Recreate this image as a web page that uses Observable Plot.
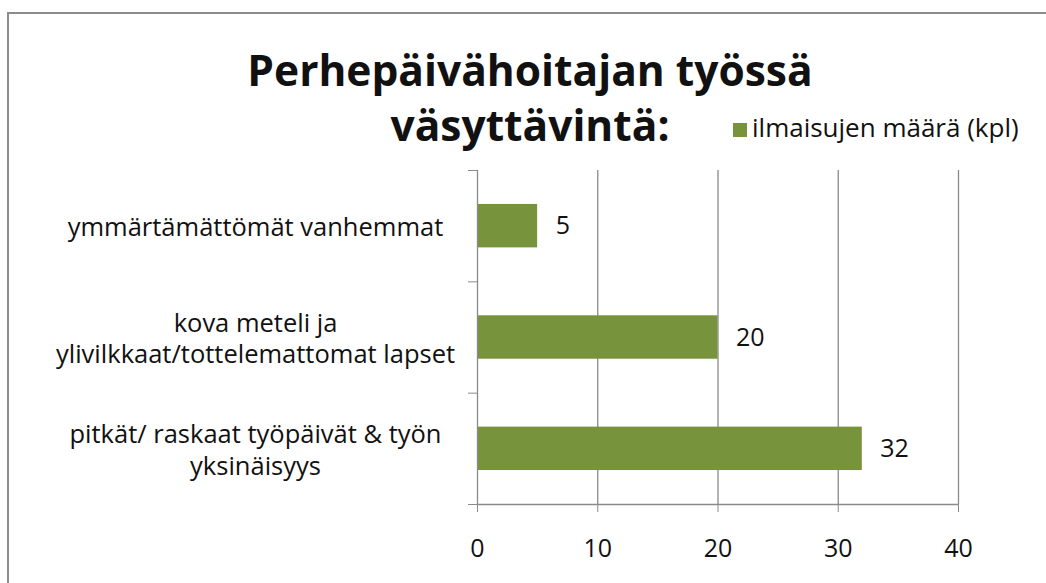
<!DOCTYPE html>
<html>
<head>
<meta charset="utf-8">
<script src="https://cdn.jsdelivr.net/npm/d3@7"></script>
<script src="https://cdn.jsdelivr.net/npm/@observablehq/plot@0.6"></script>
<style>
  html, body { margin: 0; padding: 0; background: #fff; overflow: hidden; }
  #wrap { position: relative; width: 1046px; height: 583px; overflow: hidden; font-family: "Open Sans", sans-serif; color: #111; }
  #frame { position: absolute; left: 7px; top: 12px; width: 1200px; height: 800px; border: 2px solid #8c8c8c; box-sizing: border-box; }
  #chart { position: absolute; left: 0; top: 0; }
  #title { position: absolute; left: 0; top: 42px; width: 1060px; text-align: center; font-weight: 700; font-size: 42.5px; line-height: 55px; color: #111; }
  #legend { position: absolute; left: 733px; top: 114px; font-size: 26px; line-height: 26px; white-space: nowrap; }
  #legend .sw { position: absolute; left: 0; top: 9px; width: 14px; height: 14px; background: #77933C; }
  #legend .lab { position: absolute; left: 19px; top: 0; }
</style>
</head>
<body>
<div id="wrap">
  <div id="frame"></div>
  <div id="chart"></div>
  <div id="title">Perhepäivähoitajan työssä<br>väsyttävintä:</div>
  <div id="legend"><span class="sw"></span><span class="lab">ilmaisujen määrä (kpl)</span></div>
</div>
<script>
const categories = [
  "ymmärtämättömät vanhemmat",
  "kova meteli ja\nylivilkkaat/tottelemattomat lapset",
  "pitkät/ raskaat työpäivät & työn\nyksinäisyys"
];
const values = [5, 20, 32];
const xTicks = [0, 10, 20, 30, 40];
const seriesName = "ilmaisujen määrä (kpl)";

const data = categories.map((c, i) => ({category: c, value: values[i], i}));
const boundaries = d3.range(categories.length + 1);

const green = "#77933C";
const gray = "#8a8a8a";
const ink = "#111";
const gap = 0.305;

const chart = Plot.plot({
  width: 1046,
  height: 583,
  marginLeft: 477,
  marginRight: 88,
  marginTop: 170,
  marginBottom: 79,
  style: {fontFamily: "Open Sans, sans-serif", fontSize: "25px", color: ink, background: "transparent"},
  x: {domain: [0, 40]},
  y: {domain: [0, categories.length], reverse: true},
  marks: [
    Plot.ruleX(xTicks.slice(1), {stroke: gray, strokeWidth: 1.3}),
    Plot.rectX(data, {x: "value", y1: d => d.i + gap, y2: d => d.i + 1 - gap, fill: green}),
    Plot.ruleX([0], {stroke: gray, strokeWidth: 1.3}),
    Plot.ruleY([categories.length], {stroke: gray, strokeWidth: 1.3}),
    Plot.axisX({ticks: xTicks, tickSize: 8, tickPadding: 27, stroke: gray, fill: ink, fontSize: 25, tickFormat: d => String(d), label: null}),
    Plot.axisY({ticks: boundaries, tickSize: 9, stroke: gray, tickFormat: () => "", label: null}),
    Plot.text(data, {x: 0, y: d => d.i + 0.5, text: "category", textAnchor: "middle", dx: -222, fontSize: 25.5, lineHeight: 1.24, fill: ink}),
    Plot.text(data, {x: "value", y: d => d.i + 0.5, text: d => String(d.value), textAnchor: "start", dx: 18, fontSize: 25, fill: ink})
  ]
});
document.getElementById("chart").appendChild(chart);
</script>
</body>
</html>
